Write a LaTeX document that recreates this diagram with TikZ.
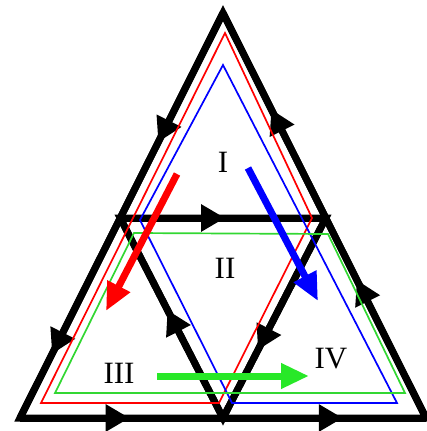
\documentclass[tikz,border=0pt]{standalone}
\usepackage{fontspec}
\setmainfont{Liberation Serif}
\usetikzlibrary{arrows.meta,decorations.markings}

\definecolor{loopgreen}{RGB}{50,215,50}
\definecolor{arrowgreen}{RGB}{40,232,40}

\tikzset{
  wire/.style={line width=7pt},
  midarrow/.style={postaction={decorate},
    decoration={markings,mark=at position #1 with {\arrow{Triangle[length=24pt,width=26pt]}}}},
  loopline/.style={line width=1.7pt},
  bigarrow/.style={line width=7pt,-{Triangle[length=28pt,width=24pt]}},
  zonelabel/.style={font=\fontsize{31}{36}\selectfont}
}

\begin{document}
\begin{tikzpicture}[x=1pt,y=-1pt]
  \useasboundingbox (0,0) rectangle (427,431);
  % corners of the big triangle and the points on its sides
  \coordinate (A) at (223,13);
  \coordinate (B) at (20,418);
  \coordinate (C) at (426,418);
  \coordinate (L) at (120.2,218);
  \coordinate (R) at (325.8,218);
  \coordinate (D) at (223,418);

  % black network
  \draw[wire] (A) -- (B) -- (C) -- cycle;
  \draw[wire] (L) -- (R) -- (D) -- cycle;
  \draw[wire,midarrow=0.63] (A) -- (L);
  \draw[wire,midarrow=0.68] (L) -- (B);
  \draw[wire,midarrow=0.54] (B) -- (D);
  \draw[wire,midarrow=0.59] (D) -- (C);
  \draw[wire,midarrow=0.69] (C) -- (R);
  \draw[wire,midarrow=0.53] (R) -- (A);
  \draw[wire,midarrow=0.51] (L) -- (R);
  \draw[wire,midarrow=0.66] (R) -- (D);
  \draw[wire,midarrow=0.54] (D) -- (L);

  % coloured loops
  \coordinate (r1) at (225,33);
  \coordinate (r2) at (41,403);
  \coordinate (r3) at (219,403);
  \coordinate (r4) at (312,218);
  \draw[red,loopline] (r1) -- (r2) -- (r3) -- (r4) -- cycle;
  \coordinate (b1) at (223,65);
  \coordinate (b2) at (140,220);
  \coordinate (b3) at (232,403);
  \coordinate (b4) at (397,403);
  \draw[blue,loopline] (b1) -- (b2) -- (b3) -- (b4) -- cycle;
  \coordinate (g1) at (134,233);
  \coordinate (g2) at (55,393);
  \coordinate (g3) at (405,393);
  \coordinate (g4) at (328,234);
  \draw[loopgreen,loopline] (g1) -- (g2) -- (g3) -- (g4) -- cycle;

  % thick arrows
  \coordinate (ra) at (177,174);
  \coordinate (rb) at (106,311);
  \draw[red,bigarrow] (ra) -- (rb);
  \coordinate (ba) at (248,168);
  \coordinate (bb) at (318,301);
  \draw[blue,bigarrow] (ba) -- (bb);
  \coordinate (ga) at (157,376);
  \coordinate (gb) at (309,376);
  \draw[arrowgreen,bigarrow] (ga) -- (gb);

  % region labels
  \node[zonelabel] (z1) at (223,162) {I};
  \node[zonelabel] (z2) at (225,268) {II};
  \node[zonelabel] (z3) at (119,373) {III};
  \node[zonelabel] (z4) at (331,359) {IV};
\end{tikzpicture}
\end{document}
